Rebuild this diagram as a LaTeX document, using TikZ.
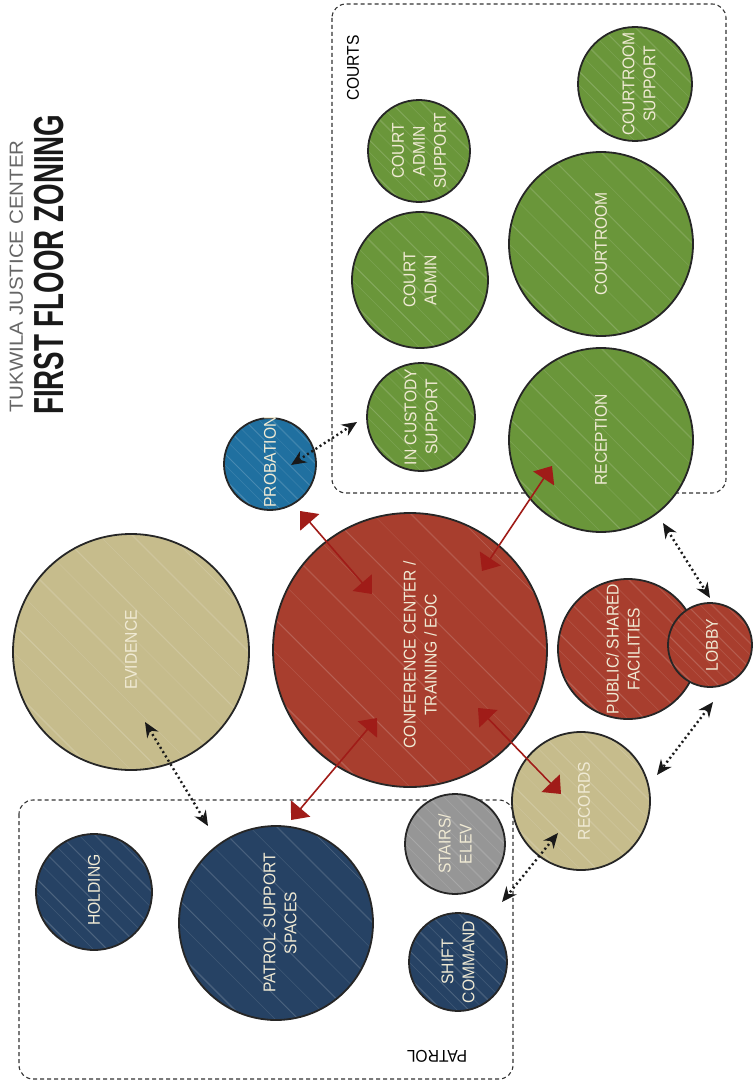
\documentclass[tikz,border=0pt]{standalone}
\usepackage{fontspec}
\setmainfont{Liberation Sans}
\newfontfamily\lblfont[FakeStretch=0.92]{Liberation Sans}
\newfontfamily\titlefont[FakeStretch=0.66]{Liberation Sans}
\newfontfamily\subfont[FakeStretch=1.08]{Liberation Sans}
\usetikzlibrary{arrows.meta,calc}
\definecolor{cgreen}{RGB}{106,150,58}
\definecolor{cred}{RGB}{168,62,46}
\definecolor{ctan}{RGB}{198,188,140}
\definecolor{cnavy}{RGB}{38,66,100}
\definecolor{cblue}{RGB}{32,112,160}
\definecolor{cgray}{RGB}{150,150,150}
\definecolor{carrow}{RGB}{160,28,24}
\definecolor{ccream}{RGB}{240,234,212}
\tikzset{
  streaks/.style={path picture={
    \coordinate (pp-c) at (path picture bounding box.center);
    \coordinate (pp-ne) at (path picture bounding box.north east);
    \coordinate (pp-nw) at (path picture bounding box.north west);
    \foreach \o/\w/\a in {-0.82/0.8/0.14,-0.66/1.4/0.16,-0.5/0.6/0.12,-0.38/1.0/0.18,-0.22/0.5/0.12,-0.08/1.3/0.14,0.07/0.6/0.12,0.2/1.1/0.16,0.36/0.5/0.12,0.5/1.2/0.14,0.66/0.7/0.16,0.8/1.0/0.12}{
      \draw[white, line width=\w pt, opacity=\a] ($(pp-c)!\o!(pp-ne)+(pp-nw)-(pp-c)$) -- ($(pp-c)!\o!(pp-ne)-(pp-nw)+(pp-c)$);
    }}},
  room/.style={circle, draw=black!85, line width=1.8pt, inner sep=0pt, streaks},
  lab/.style={rotate=90, align=center, text=ccream, inner sep=0pt,
    font=\lblfont\fontsize{17}{21}\selectfont},
  zone/.style={draw=black!80, line width=1.1pt, dash pattern=on 4pt off 3pt, rounded corners=14pt},
  zonelab/.style={text=black, inner sep=0pt, font=\lblfont\fontsize{17}{21}\selectfont},
  redarr/.style={draw=carrow, line width=1.6pt,
    {Triangle[length=15pt,width=25pt]}-{Triangle[length=15pt,width=25pt]}},
  dotarr/.style={draw=black!90, line width=2.4pt, dash pattern=on 2pt off 3pt,
    {Stealth[length=15pt,width=13pt]}-{Stealth[length=15pt,width=13pt]}},
}
\begin{document}
\begin{tikzpicture}[x=1pt,y=-1pt]
\useasboundingbox (0,0) rectangle (752,1089);

% title
\node[rotate=90, anchor=base west, inner sep=0pt, text=black!60,
  font=\subfont\fontsize{19}{19}\selectfont] (sub) at (23,413) {TUKWILA JUSTICE CENTER};
\node[rotate=90, anchor=base west, inner sep=0pt, text=black!90,
  font=\titlefont\bfseries\fontsize{42}{42}\selectfont] (title) at (63,415) {FIRST FLOOR ZONING};

% zones
\draw[zone] (332,4) rectangle (726,493);
\node[zonelab, rotate=90] (courtslab) at (353,68) {COURTS};
\draw[zone] (19,800) rectangle (513,1079);
\node[zonelab, rotate=180] (patrollab) at (437,1056) {PATROL};

% rooms
\node[room, fill=ctan, minimum size=236pt] (evid) at (131,652) {};
\node[room, fill=cred, minimum size=274pt] (conf) at (410,650) {};
\node[room, fill=cblue, minimum size=92pt] (prob) at (270,464) {};
\node[room, fill=cgreen, minimum size=108pt] (incust) at (421,417) {};
\node[room, fill=cgreen, minimum size=136pt] (cadmin) at (420,280) {};
\node[room, fill=cgreen, minimum size=102pt] (cadsup) at (419,151) {};
\node[room, fill=cgreen, minimum size=184pt] (court) at (601,244) {};
\node[room, fill=cgreen, minimum size=114pt] (crsup) at (635,84) {};
\node[room, fill=cgreen, minimum size=184pt] (recep) at (601,440) {};
\node[room, fill=cred, minimum size=140pt] (public) at (628,649) {};
\node[room, fill=cred, minimum size=84pt] (lobby) at (710,645) {};
\node[room, fill=ctan, minimum size=138pt] (records) at (581,801) {};
\node[room, fill=cgray, minimum size=100pt] (stairs) at (455,844) {};
\node[room, fill=cnavy, minimum size=98pt] (shift) at (458,962) {};
\node[room, fill=cnavy, minimum size=194pt] (patsup) at (276,923) {};
\node[room, fill=cnavy, minimum size=116pt] (hold) at (94,892) {};

% labels
\node[lab] (evid-t) at (131,650) {EVIDENCE};
\node[lab] (conf-t) at (420,655) {CONFERENCE CENTER /\\TRAINING / EOC};
\node[lab] (prob-t) at (270,462) {PROBATION};
\node[lab] (incust-t) at (421,417) {IN CUSTODY\\SUPPORT};
\node[lab] (cadmin-t) at (420,280) {COURT\\ADMIN};
\node[lab] (cadsup-t) at (419,151) {COURT\\ADMIN\\SUPPORT};
\node[lab] (court-t) at (601,244) {COURTROOM};
\node[lab] (crsup-t) at (639,84) {COURTROOM\\SUPPORT};
\node[lab] (recep-t) at (601,440) {RECEPTION};
\node[lab] (public-t) at (623,649) {PUBLIC/ SHARED\\FACILITIES};
\node[lab] (lobby-t) at (712,645) {LOBBY};
\node[lab] (records-t) at (584,801) {RECORDS};
\node[lab] (stairs-t) at (455,844) {STAIRS/\\ELEV};
\node[lab] (shift-t) at (458,962) {SHIFT\\COMMAND};
\node[lab] (patsup-t) at (280,923) {PATROL SUPPORT\\SPACES};
\node[lab] (hold-t) at (94,890) {HOLDING};

% arrow end points
\coordinate (r1a) at (372,594); \coordinate (r1b) at (300,511);
\coordinate (r2a) at (482,571); \coordinate (r2b) at (552,466);
\coordinate (r3a) at (478,708); \coordinate (r3b) at (561,794);
\coordinate (r4a) at (377,718); \coordinate (r4b) at (291,820);
\coordinate (d1a) at (291,465); \coordinate (d1b) at (357,422);
\coordinate (d2a) at (145,722); \coordinate (d2b) at (208,826);
\coordinate (d3a) at (663,523); \coordinate (d3b) at (710,598);
\coordinate (d4a) at (713,702); \coordinate (d4b) at (657,775);
\coordinate (d5a) at (558,833); \coordinate (d5b) at (502,902);

% red connectors
\draw[redarr] (r1a) -- (r1b);
\draw[redarr] (r2a) -- (r2b);
\draw[redarr] (r3a) -- (r3b);
\draw[redarr] (r4a) -- (r4b);

% dotted connectors
\draw[dotarr] (d1a) -- (d1b);
\draw[dotarr] (d2a) -- (d2b);
\draw[dotarr] (d3a) -- (d3b);
\draw[dotarr] (d4a) -- (d4b);
\draw[dotarr] (d5a) -- (d5b);
\end{tikzpicture}
\end{document}
